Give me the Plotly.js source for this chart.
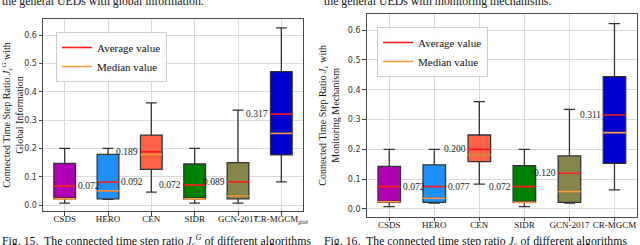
<!DOCTYPE html>
<html>
<head>
<meta charset="utf-8">
<script src="https://cdn.plot.ly/plotly-3.0.1.min.js"></script>
<style>html,body{margin:0;padding:0;background:#fff;}#chart{width:640px;height:245px;}</style>
</head>
<body>
<div id="chart"></div>
<script>
// ---- data ----
const categories = ['CSDS', 'HERO', 'CEN', 'SIDR', 'GCN-2017', 'CR-MGCM'];
const ticksGlob = ['CSDS', 'HERO', 'CEN', 'SIDR', 'GCN-2017', 'CR-MGCM<sub><span style="font-size:5.5px"><i>glob</i></span></sub>'];
const ticksMon = ['CSDS', 'HERO', 'CEN', 'SIDR', 'GCN-2017', 'CR-MGCM'];
const boxColors = ['#b000b4', '#1e90ff', '#ff6347', '#008000', '#86864a', '#0000cd'];

// Fig. 15 : global information
const globLower  = [0.007, 0.020, 0.046, 0.007, 0.007, 0.082];
const globQ1     = [0.022, 0.022, 0.126, 0.022, 0.022, 0.177];
const globMedian = [0.022, 0.050, 0.178, 0.022, 0.032, 0.253];
const globQ3     = [0.147, 0.179, 0.247, 0.145, 0.150, 0.471];
const globUpper  = [0.200, 0.200, 0.361, 0.200, 0.335, 0.626];
const globMean   = [0.067, 0.081, 0.188, 0.071, 0.082, 0.321];
const globLabels = ['0.072', '0.092', '0.189', '0.072', '0.089', '0.317'];

// Fig. 16 : monitoring mechanism
const monLower  = [0.008, 0.020, 0.083, 0.008, 0.020, 0.064];
const monQ1     = [0.022, 0.022, 0.159, 0.022, 0.022, 0.153];
const monMedian = [0.024, 0.036, 0.181, 0.022, 0.058, 0.256];
const monQ3     = [0.143, 0.148, 0.248, 0.145, 0.178, 0.444];
const monUpper  = [0.200, 0.200, 0.360, 0.200, 0.334, 0.622];
const monMean   = [0.075, 0.075, 0.200, 0.075, 0.120, 0.315];
const monLabels = ['0.072', '0.077', '0.200', '0.072', '0.120', '0.311'];

const labelSide = ['right', 'right', 'left', 'left', 'left', 'left'];

// ---- build ----
const W = 640, H = 245;
const px = v => v / W, py = v => 1 - v / H;
const SERIF = 'Liberation Serif, Times New Roman, serif';
const BOXW = 0.5;

const traces = [];
const annotations = [];

function panel(xa, ya, lower, q1, med, q3, upper, mean, labels, legendId) {
  const xr = xa, yr = ya;
  categories.forEach((c, i) => {
    traces.push({
      type: 'box', x: [i], xaxis: xr, yaxis: yr,
      q1: [q1[i]], median: [med[i]], q3: [q3[i]],
      lowerfence: [lower[i]], upperfence: [upper[i]],
      width: BOXW, whiskerwidth: 0.5,
      fillcolor: boxColors[i],
      line: {color: '#333333', width: 1.3},
      showlegend: false, hoverinfo: 'skip', name: c
    });
  });
  const segX = [], meanY = [], medY = [];
  categories.forEach((c, i) => {
    segX.push(i - BOXW / 2, i + BOXW / 2, null);
    meanY.push(mean[i], mean[i], null);
    medY.push(med[i], med[i], null);
  });
  traces.push({
    type: 'scatter', mode: 'lines', x: segX, y: medY, xaxis: xr, yaxis: yr,
    line: {color: '#ff9a3c', width: 1.6}, name: 'Median value',
    legend: legendId, legendrank: 2, hoverinfo: 'skip'
  });
  traces.push({
    type: 'scatter', mode: 'lines', x: segX, y: meanY, xaxis: xr, yaxis: yr,
    line: {color: '#ff1a1a', width: 1.6}, name: 'Average value',
    legend: legendId, legendrank: 1, hoverinfo: 'skip'
  });
  categories.forEach((c, i) => {
    const right = labelSide[i] === 'right';
    annotations.push({
      xref: xr, yref: yr, x: i + (right ? BOXW / 2 + 0.01 : -BOXW / 2 - 0.01), y: mean[i],
      text: labels[i], showarrow: false, xanchor: right ? 'left' : 'right', yanchor: 'middle',
      font: {family: SERIF, size: 9.5, color: '#222'}
    });
  });
}

panel('x', 'y', globLower, globQ1, globMedian, globQ3, globUpper, globMean, globLabels, 'legend');
panel('x2', 'y2', monLower, monQ1, monMedian, monQ3, monUpper, monMean, monLabels, 'legend2');

// captions (cropped page text)
const cap = {family: SERIF, size: 11.8, color: '#111'};
annotations.push({xref: 'paper', yref: 'paper', x: px(0), y: py(1), xanchor: 'left', yanchor: 'middle',
  text: 'the general UEDs with global information.', showarrow: false, font: cap});
annotations.push({xref: 'paper', yref: 'paper', x: px(322), y: py(1), xanchor: 'left', yanchor: 'middle',
  text: 'the general UEDs with monitoring mechanisms.', showarrow: false, font: cap});
annotations.push({xref: 'paper', yref: 'paper', x: px(0), y: py(241), xanchor: 'left', yanchor: 'middle',
  text: 'Fig. 15.  The connected time step ratio <i>J</i><sub><i>c</i></sub><sup><i>G</i></sup> of different algorithms', showarrow: false, font: cap});
annotations.push({xref: 'paper', yref: 'paper', x: px(322), y: py(241), xanchor: 'left', yanchor: 'middle',
  text: 'Fig. 16.  The connected time step ratio <i>J</i><sub><i>c</i></sub> of different algorithms', showarrow: false, font: cap});

function xaxis(domain, ticks, anchor) {
  return {
    domain: domain, anchor: anchor, range: [-0.5, 5.5],
    tickmode: 'array', tickvals: categories.map((c, i) => i), ticktext: ticks,
    tickangle: 0, ticklabelstandoff: -4,
    showgrid: true, gridcolor: '#dadada', gridwidth: 1,
    ticks: 'outside', ticklen: 3.5, tickcolor: '#444', tickwidth: 1,
    showline: true, mirror: true, linecolor: '#4a4a4a', linewidth: 1,
    zeroline: false, fixedrange: true,
    tickfont: {family: SERIF, size: 9, color: '#111'}
  };
}
function yaxis(domain, range, title, anchor, standoff) {
  return {
    domain: domain, anchor: anchor, range: range,
    dtick: 0.1, tick0: 0, tickformat: '.1f',
    showgrid: true, gridcolor: '#dadada', gridwidth: 1,
    ticks: 'outside', ticklen: 3.5, tickcolor: '#444', tickwidth: 1,
    showline: true, mirror: true, linecolor: '#4a4a4a', linewidth: 1,
    zeroline: false, fixedrange: true,
    tickfont: {family: 'DejaVu Sans, sans-serif', size: 8, color: '#333'},
    title: {text: title, standoff: standoff, font: {family: SERIF, size: 10, color: '#111'}}
  };
}

const legendStyle = (x, y) => ({
  x: x, y: y, xanchor: 'left', yanchor: 'top', xref: 'paper', yref: 'paper',
  bgcolor: 'rgba(255,255,255,0.9)', bordercolor: '#cccccc', borderwidth: 1,
  font: {family: SERIF, size: 11, color: '#111'}, traceorder: 'normal',
  tracegroupgap: 0, itemwidth: 30
});

const layout = {
  width: W, height: H,
  margin: {l: 0, r: 0, t: 0, b: 0},
  paper_bgcolor: '#ffffff', plot_bgcolor: '#ffffff',
  showlegend: true,
  xaxis: xaxis([px(43), px(303)], ticksGlob, 'y'),
  yaxis: yaxis([py(211), py(19)], [-0.021, 0.657],
    'Connected Time Step Ratio <i>J</i><sub><i>c</i></sub><sup><i>G</i></sup> with<br>Global Information', 'x', 6),
  xaxis2: xaxis([px(366.7), px(637)], ticksMon, 'y2'),
  yaxis2: yaxis([py(216.7), py(14)], [-0.026, 0.654],
    'Connected Time Step Ratio <i>J</i><sub><i>c</i></sub> with<br>Monitoring Mechanism', 'x2', 6),
  legend: legendStyle(px(56), py(32)),
  legend2: legendStyle(px(377), py(27)),
  annotations: annotations
};

Plotly.newPlot('chart', traces, layout, {staticPlot: true, displayModeBar: false});
</script>
</body>
</html>
